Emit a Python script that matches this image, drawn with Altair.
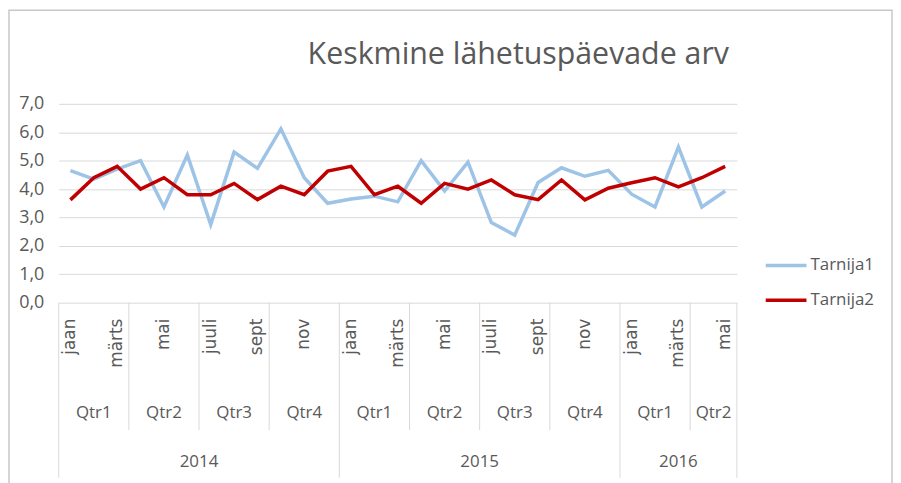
import altair as alt
import pandas as pd

# ---- data ----
title_text = "Keskmine lähetuspäevade arv"
month_labels = ["jaan", "veebr", "märts", "apr", "mai", "juuni", "juuli", "aug", "sept", "okt", "nov", "dets",
                "jaan", "veebr", "märts", "apr", "mai", "juuni", "juuli", "aug", "sept", "okt", "nov", "dets",
                "jaan", "veebr", "märts", "apr", "mai"]
quarter_labels = ["Qtr1", "Qtr2", "Qtr3", "Qtr4", "Qtr1", "Qtr2", "Qtr3", "Qtr4", "Qtr1", "Qtr2"]
quarter_months = [3, 3, 3, 3, 3, 3, 3, 3, 3, 2]
year_labels = ["2014", "2015", "2016"]
year_months = [12, 12, 5]
series_names = ["Tarnija1", "Tarnija2"]
tarnija1 = [4.65, 4.35, 4.70, 5.00, 3.37, 5.20, 2.75, 5.30, 4.73, 6.12, 4.40, 3.50,
            3.65, 3.75, 3.55, 5.00, 3.93, 4.95, 2.82, 2.38, 4.23, 4.75, 4.45, 4.66,
            3.82, 3.37, 5.48, 3.37, 3.93]
tarnija2 = [3.62, 4.40, 4.80, 4.00, 4.40, 3.80, 3.80, 4.20, 3.63, 4.10, 3.80, 4.63,
            4.80, 3.80, 4.10, 3.50, 4.20, 4.00, 4.32, 3.80, 3.63, 4.32, 3.62, 4.03,
            4.22, 4.40, 4.08, 4.40, 4.80]

# ---- tables ----
n = len(month_labels)
rows = []
for i in range(n):
    rows.append({"x": i + 0.5, "series": series_names[0], "value": tarnija1[i]})
    rows.append({"x": i + 0.5, "series": series_names[1], "value": tarnija2[i]})
lines_df = pd.DataFrame(rows)

month_df = pd.DataFrame([{"x": i + 0.5, "label": month_labels[i]} for i in range(n) if i % 2 == 0])

q_bounds = [0]
for m in quarter_months:
    q_bounds.append(q_bounds[-1] + m)
quarter_df = pd.DataFrame([{"x": (q_bounds[k] + q_bounds[k + 1]) / 2, "label": quarter_labels[k]}
                           for k in range(len(quarter_labels))])
y_bounds = [0]
for m in year_months:
    y_bounds.append(y_bounds[-1] + m)
year_df = pd.DataFrame([{"x": (y_bounds[k] + y_bounds[k + 1]) / 2, "label": year_labels[k]}
                        for k in range(len(year_labels))])
q_sep_df = pd.DataFrame({"x": [b for b in q_bounds if b not in y_bounds]})
y_sep_df = pd.DataFrame({"x": y_bounds})
title_df = pd.DataFrame({"label": [title_text]})
frame_df = pd.DataFrame({"k": [0]})

W, H = 682, 200
GRAY = "#595959"
GRID = "#d9d9d9"
FONT = "Open Sans"
WIDE = "DejaVu Sans"

xscale = alt.Scale(domain=[0, n], nice=False, zero=False)

frame = alt.Chart(frame_df).mark_rect(fillOpacity=0, stroke="#c8c8c8", strokeWidth=1.5).encode(
    x=alt.value(-50), x2=alt.value(838), y=alt.value(-94), y2=alt.value(392))

title = alt.Chart(title_df).mark_text(align="right", baseline="alphabetic", font=FONT,
                                      fontSize=30.5, color=GRAY).encode(
    x=alt.value(W - 8), y=alt.value(-40), text="label:N")

lines = alt.Chart(lines_df).mark_line(strokeWidth=3.5).encode(
    x=alt.X("x:Q", scale=xscale, axis=None),
    y=alt.Y("value:Q", scale=alt.Scale(domain=[0, 7], nice=False),
            axis=alt.Axis(values=[0, 1, 2, 3, 4, 5, 6, 7], title=None, grid=True, gridColor=GRID,
                          domain=False, ticks=False, labelFont=FONT, labelFontSize=18,
                          labelColor=GRAY, labelPadding=15,
                          labelExpr="replace(format(datum.value, '.1f'), '.', ',')")),
    color=alt.Color("series:N",
                    scale=alt.Scale(domain=series_names, range=["#9dc3e6", "#c00000"]),
                    legend=alt.Legend(title=None, orient="none", legendX=709, legendY=140,
                                      symbolType="stroke", symbolSize=1681, symbolStrokeWidth=3.5,
                                      labelFont=FONT, labelFontSize=17, labelColor=GRAY,
                                      rowPadding=4, labelOffset=2)),
)

month_text = alt.Chart(month_df).mark_text(angle=270, align="right", baseline="middle",
                                           font=WIDE, fontSize=17, color=GRAY).encode(
    x=alt.X("x:Q", scale=xscale, axis=None), y=alt.value(H + 16), text="label:N")

quarter_text = alt.Chart(quarter_df).mark_text(baseline="middle", font=FONT, fontSize=17,
                                               color=GRAY).encode(
    x=alt.X("x:Q", scale=xscale, axis=None), y=alt.value(H + 111), text="label:N")

year_text = alt.Chart(year_df).mark_text(baseline="middle", font=FONT, fontSize=17,
                                         color=GRAY).encode(
    x=alt.X("x:Q", scale=xscale, axis=None), y=alt.value(H + 160), text="label:N")

q_sep = alt.Chart(q_sep_df).mark_rule(color=GRID, strokeWidth=1).encode(
    x=alt.X("x:Q", scale=xscale, axis=None), y=alt.value(H), y2=alt.value(H + 128))

y_sep = alt.Chart(y_sep_df).mark_rule(color=GRID, strokeWidth=1).encode(
    x=alt.X("x:Q", scale=xscale, axis=None), y=alt.value(H), y2=alt.value(H + 176))

chart = alt.layer(frame, title, q_sep, y_sep, lines, month_text, quarter_text, year_text).properties(
    width=W, height=H,
    padding={"top": 0, "left": 0, "right": 0, "bottom": 0},
).configure_view(stroke=None)

chart.save("out.html", embed_options={"renderer": "svg", "actions": False})
